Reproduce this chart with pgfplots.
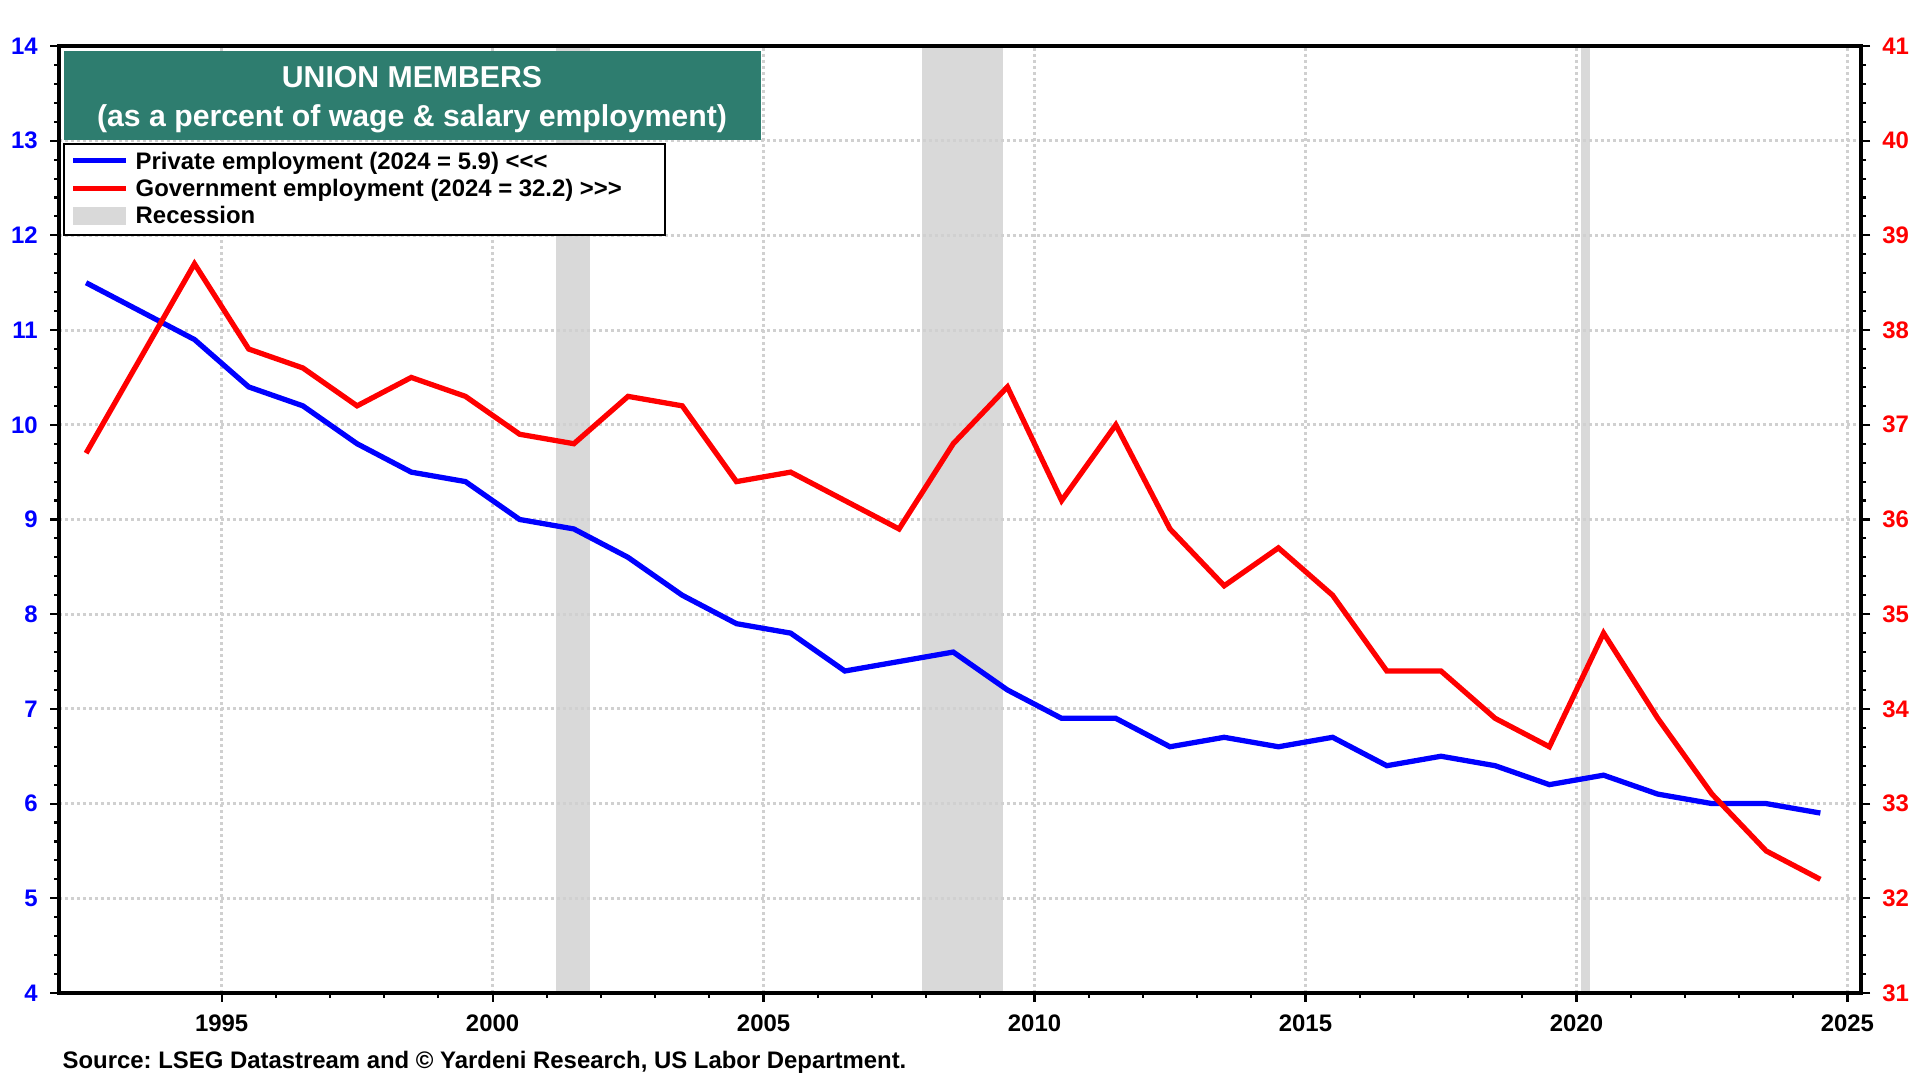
\documentclass[border=0pt]{standalone}
\usepackage{fontspec}
\setmainfont{Liberation Sans}[Ligatures=TeXOff]
\usepackage{pgfplots}
\usepackage{pgfplotstable}
\pgfplotsset{compat=1.18}
\definecolor{titlegreen}{RGB}{46,125,111}
\definecolor{recgray}{RGB}{217,217,217}
\definecolor{gridgray}{RGB}{208,208,208}
\newcommand{\tf}{\bfseries\fontsize{6.8}{8}\selectfont}
\frenchspacing

\pgfplotstableread{
year priv gov
1992.5 11.5 36.7
1993.5 11.2 37.7
1994.5 10.9 38.7
1995.5 10.4 37.8
1996.5 10.2 37.6
1997.5 9.8 37.2
1998.5 9.5 37.5
1999.5 9.4 37.3
2000.5 9.0 36.9
2001.5 8.9 36.8
2002.5 8.6 37.3
2003.5 8.2 37.2
2004.5 7.9 36.4
2005.5 7.8 36.5
2006.5 7.4 36.2
2007.5 7.5 35.9
2008.5 7.6 36.8
2009.5 7.2 37.4
2010.5 6.9 36.2
2011.5 6.9 37.0
2012.5 6.6 35.9
2013.5 6.7 35.3
2014.5 6.6 35.7
2015.5 6.7 35.2
2016.5 6.4 34.4
2017.5 6.5 34.4
2018.5 6.4 33.9
2019.5 6.2 33.6
2020.5 6.3 34.8
2021.5 6.1 33.9
2022.5 6.0 33.1
2023.5 6.0 32.5
2024.5 5.9 32.2
}\datatable

\begin{document}
\begin{tikzpicture}
\useasboundingbox (0,0) rectangle (192mm,108mm);
\pgfplotsset{
  base/.style={at={(5.9mm,8.7mm)}, anchor=south west, scale only axis,
    width=180.2mm, height=94.7mm, xmin=1992, xmax=2025.25,
    tick align=outside, major tick length=0.9mm, minor tick length=0.5mm,
    every tick/.style={black, line width=0.6pt},
    axis line style={line width=1.3pt},
    ticklabel style={font=\tf},
    /pgf/number format/assume math mode=true,
    /pgf/number format/set thousands separator={},
  },
}
% axis with grid, recessions, frame
\begin{axis}[base, ymin=4, ymax=14, axis on top,
  ytick={4,5,...,14}, xtick={1995,2000,...,2025},
  minor x tick num=4, minor y tick num=4,
  xtick pos=bottom, ytick pos=left,
  grid=major,
  major grid style={gridgray, line width=0.3mm, dash pattern=on 0.3mm off 0.3mm},
  yticklabel style={text=blue},
]
\addplot[fill=recgray, draw=none, mark=none] coordinates {(2001.17,4) (2001.80,4) (2001.80,14) (2001.17,14)} -- cycle;
\addplot[fill=recgray, draw=none, mark=none] coordinates {(2007.92,4) (2009.42,4) (2009.42,14) (2007.92,14)} -- cycle;
\addplot[fill=recgray, draw=none, mark=none] coordinates {(2020.08,4) (2020.25,4) (2020.25,14) (2020.08,14)} -- cycle;
\end{axis}
% private line
\begin{axis}[base, ymin=4, ymax=14, hide axis]
\addplot[blue, line width=1.5pt, mark=none] table[x=year, y=priv]{\datatable};
\end{axis}
% government, right axis
\begin{axis}[base, ymin=31, ymax=41, axis y line*=right, axis x line=none,
  ytick={31,32,...,41}, minor y tick num=4,
  yticklabel style={text=red}]
\addplot[red, line width=1.5pt, mark=none] table[x=year, y=gov]{\datatable};
\end{axis}
% title, legend, source (positions in reference pixels)
\begin{scope}[x=0.1mm, y=-0.1mm, shift={(0,108mm)}]
\fill[titlegreen] (64,51) rectangle (761,140);
\node[text=white, font=\bfseries\fontsize{8.6}{10}\selectfont, anchor=base, inner sep=0] at (412,88) {UNION MEMBERS};
\node[text=white, font=\bfseries\fontsize{8.6}{10}\selectfont, anchor=base, inner sep=0] at (412,127) {(as a percent of wage \& salary employment)};
\draw[black, line width=0.7pt, fill=white] (64,144) rectangle (665,235);
\draw[blue, line width=1.5pt] (73,160.5) -- (126,160.5);
\draw[red, line width=1.5pt] (73,188.5) -- (126,188.5);
\fill[recgray] (73,207) rectangle (126,225);
\node[anchor=base west, font=\tf, inner sep=0] at (135,170) {Private employment (2024 = 5.9) <\kern0pt<\kern0pt<};
\node[anchor=base west, font=\tf, inner sep=0] at (135,197) {Government employment (2024 = 32.2) >\kern0pt>\kern0pt>};
\node[anchor=base west, font=\tf, inner sep=0] at (135,224) {Recession};
\node[anchor=base west, font=\tf, inner sep=0] at (62,1068) {Source: LSEG Datastream and © Yardeni Research, US Labor Department.};
\end{scope}
\end{tikzpicture}
\end{document}
